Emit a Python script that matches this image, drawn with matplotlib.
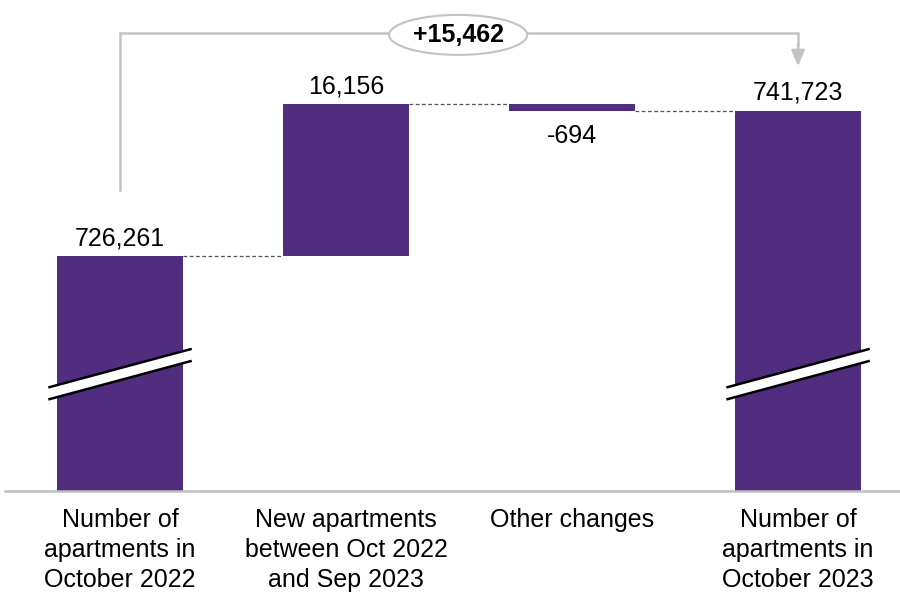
import numpy as np
import matplotlib.pyplot as plt
from matplotlib.patches import Ellipse, Polygon

plt.rcParams['font.family'] = ['Liberation Sans', 'DejaVu Sans']

# data
categories = ["Number of\napartments in\nOctober 2022",
              "New apartments\nbetween Oct 2022\nand Sep 2023",
              "Other changes",
              "Number of\napartments in\nOctober 2023"]
start_value = 726261
changes = [16156, -694]
end_value = 741723
value_labels = ["726,261", "16,156", "-694", "741,723"]

purple = '#502D7F'
grey = '#C3C3C3'

# waterfall geometry
bottoms = [0]
tops = [start_value]
level = start_value
for c in changes:
    bottoms.append(min(level, level + c))
    tops.append(max(level, level + c))
    level += c
bottoms.append(0)
tops.append(end_value)

ymin, ymax = 701280, 753470
bottoms = [max(b, ymin) for b in bottoms]
x = np.arange(len(categories))
width = 0.557

fig = plt.figure(figsize=(9, 5.96), dpi=100)
ax = fig.add_axes([5 / 900, 105 / 596, 895 / 900, 491 / 596])
ax.set_xlim(-0.509, 3.451)
ax.set_ylim(ymin, ymax)

ax.bar(x, np.array(tops) - np.array(bottoms), bottom=bottoms, width=width,
       color=purple, zorder=2)

# dashed connectors
levels = [start_value, start_value + changes[0], start_value + changes[0] + changes[1]]
for i, lv in enumerate(levels):
    ax.plot([x[i] + width / 2, x[i + 1] - width / 2], [lv, lv],
            ls=(0, (3, 2)), color='#555555', lw=0.9, zorder=1)

# value labels
for i, lab in enumerate(value_labels):
    if i == 2:
        ax.annotate(lab, (x[i], bottoms[i]), xytext=(0, -10), textcoords='offset points',
                    ha='center', va='top', fontsize=18)
    else:
        ax.annotate(lab, (x[i], tops[i]), xytext=(0, 4), textcoords='offset points',
                    ha='center', va='bottom', fontsize=18)

# axis break marks on full bars
upp = (ymax - ymin) / 491.0  # value per pixel
for i in [0, 3]:
    xl, xr = x[i] - 0.312, x[i] + 0.312
    yc = 713700
    rise = 19 * upp
    th = 6 * upp
    poly = Polygon([(xl, yc - rise + th), (xr, yc + rise + th),
                    (xr, yc + rise - th), (xl, yc - rise - th)],
                   closed=True, facecolor='white', edgecolor='none', zorder=3)
    ax.add_patch(poly)
    ax.plot([xl, xr], [yc - rise + th, yc + rise + th], color='black', lw=1.8, zorder=4)
    ax.plot([xl, xr], [yc - rise - th, yc + rise - th], color='black', lw=1.8, zorder=4)

# total change bracket
total = end_value - start_value
yb = 749960
ax.plot([x[0], x[0], x[3], x[3]], [start_value + 7000, yb, yb, end_value + 7000],
        color=grey, lw=1.8, zorder=1, solid_joinstyle='miter')
ax.annotate('', xy=(x[3], end_value + 4700), xytext=(x[3], end_value + 7100),
            arrowprops=dict(arrowstyle='-|>,head_width=0.4,head_length=0.95',
                            color=grey, lw=1.8, shrinkA=0, shrinkB=0))
ax.add_patch(Ellipse((1.496, 749760), 0.611, 40 * upp, facecolor='white',
                     edgecolor=grey, lw=1.5, zorder=3))
ax.text(1.496, 749760, f"+{total:,}", ha='center', va='center', fontsize=18,
        fontweight='bold', zorder=4)

# axes styling
for s in ['top', 'right', 'left']:
    ax.spines[s].set_visible(False)
ax.spines['bottom'].set_color('#BFBFBF')
ax.spines['bottom'].set_linewidth(1.8)
ax.set_yticks([])
ax.set_xticks(x)
ax.set_xticklabels(categories, fontsize=18, va='top', linespacing=1.32)
ax.tick_params(axis='x', length=0, pad=12)

fig.savefig('out.png', dpi=100)
